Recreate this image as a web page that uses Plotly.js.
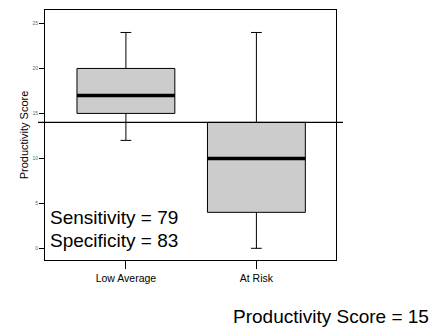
<!DOCTYPE html>
<html>
<head>
<meta charset="utf-8">
<script src="https://cdn.plot.ly/plotly-3.0.1.min.js"></script>
<style>html,body{margin:0;padding:0;background:#fff;}#chart{width:443px;height:331px;}</style>
</head>
<body>
<div id="chart"></div>
<script>
var categories = ["Low Average", "At Risk"];
var lowerFence = [12, 0];
var q1 = [15, 4];
var median = [17, 10];
var q3 = [20, 14];
var upperFence = [24, 24];
var cutoff = 14;
var statLines = ["Sensitivity = 79", "Specificity = 83"];
var footnote = "Productivity Score = 15";
var yTicks = [0, 5, 10, 15, 20, 25];

var boxWidth = 0.75;
var traces = [];
categories.forEach(function (c, i) {
  traces.push({
    type: "box",
    x: [i],
    q1: [q1[i]],
    median: [median[i]],
    q3: [q3[i]],
    lowerfence: [lowerFence[i]],
    upperfence: [upperFence[i]],
    width: boxWidth,
    whiskerwidth: 0.11,
    fillcolor: "#cccccc",
    line: { color: "#000", width: 1 },
    boxpoints: false,
    hoverinfo: "none",
    showlegend: false
  });
  traces.push({
    type: "scatter",
    mode: "lines",
    x: [i - boxWidth / 2, i + boxWidth / 2],
    y: [median[i], median[i]],
    line: { color: "#000", width: 3.5 },
    hoverinfo: "none",
    showlegend: false
  });
});

var font = "Liberation Sans, Arial, sans-serif";
var layout = {
  width: 443,
  height: 331,
  margin: { l: 45, r: 107, t: 10, b: 71 },
  paper_bgcolor: "#fff",
  plot_bgcolor: "#fff",
  font: { family: font, color: "#000" },
  showlegend: false,
  xaxis: {
    range: [-0.62, 1.61],
    tickvals: categories.map(function (c, i) { return i; }),
    ticktext: categories,
    ticks: "outside",
    ticklen: 8,
    tickcolor: "#000",
    tickwidth: 1,
    tickfont: { size: 10.5, family: font, color: "#000" },
    showgrid: false,
    zeroline: false,
    showline: true,
    mirror: true,
    linecolor: "#000",
    linewidth: 1
  },
  yaxis: {
    range: [-1.3, 26.5],
    tickvals: yTicks,
    ticks: "outside",
    ticklen: 5,
    tickcolor: "#000",
    tickwidth: 1,
    tickfont: { size: 5, family: font, color: "#666" },
    showgrid: false,
    zeroline: false,
    showline: true,
    mirror: true,
    linecolor: "#000",
    linewidth: 1,
    title: { text: "Productivity Score", font: { size: 11, family: font, color: "#000" }, standoff: 1 }
  },
  shapes: [{
    type: "line", xref: "paper", yref: "y",
    x0: -0.024, x1: 1.024, y0: cutoff, y1: cutoff,
    line: { color: "#000", width: 1.3 }, layer: "above"
  }],
  annotations: [
    { text: statLines[0], xref: "paper", yref: "y", x: 0.01, y: 3.4, xanchor: "left", yanchor: "middle", showarrow: false, font: { size: 19, family: font, color: "#000" } },
    { text: statLines[1], xref: "paper", yref: "y", x: 0.01, y: 0.9, xanchor: "left", yanchor: "middle", showarrow: false, font: { size: 19, family: font, color: "#000" } },
    { text: footnote, xref: "paper", yref: "paper", x: 0.983, y: -0.227, xanchor: "center", yanchor: "middle", showarrow: false, font: { size: 19, family: font, color: "#000" } }
  ]
};

Plotly.newPlot("chart", traces, layout, { staticPlot: true, displayModeBar: false });
</script>
</body>
</html>
